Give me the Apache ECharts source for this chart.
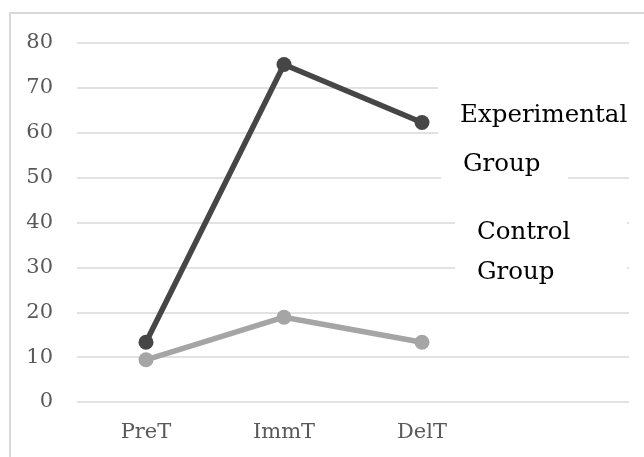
<!DOCTYPE html>
<html>
<head>
<meta charset="utf-8">
<script src="https://cdn.jsdelivr.net/npm/echarts@6/dist/echarts.min.js"></script>
<style>
html,body{margin:0;padding:0;background:#fff;}
#chart{width:644px;height:457px;}
</style>
</head>
<body>
<div id="chart"></div>
<script>
// ---- data ----
var categories = ['PreT', 'ImmT', 'DelT', ''];
var experimentalName = 'Experimental Group';
var controlName = 'Control Group';
var experimentalValues = [13.3, 75.2, 62.3, null];
var controlValues = [9.4, 18.9, 13.3, null];
var yTicks = { min: 0, max: 80, interval: 10 };
var expLegendLines = ['Experimental', 'Group'];
var ctlLegendLines = ['Control', 'Group'];

var chart = echarts.init(document.getElementById('chart'), null, { renderer: 'canvas' });
var serif = '"DejaVu Serif", "Liberation Serif", serif';

var option = {
  backgroundColor: '#ffffff',
  animation: false,
  grid: { left: 77, right: 15, top: 43, bottom: 55, containLabel: false },
  xAxis: {
    type: 'category',
    data: categories,
    boundaryGap: true,
    axisLine: { show: false },
    axisTick: { show: false },
    axisLabel: { color: '#595959', fontFamily: serif, fontSize: 21, margin: 20 }
  },
  yAxis: {
    type: 'value',
    min: yTicks.min,
    max: yTicks.max,
    interval: yTicks.interval,
    axisLine: { show: false },
    axisTick: { show: false },
    axisLabel: { color: '#595959', fontFamily: serif, fontSize: 21, margin: 24 },
    splitLine: { lineStyle: { color: '#d9d9d9', width: 1.5 } }
  },
  series: [
    {
      name: experimentalName,
      type: 'line',
      data: experimentalValues,
      symbol: 'circle',
      symbolSize: 15,
      lineStyle: { color: '#464646', width: 5.5 },
      itemStyle: { color: '#464646' },
      z: 3
    },
    {
      name: controlName,
      type: 'line',
      data: controlValues,
      symbol: 'circle',
      symbolSize: 15,
      lineStyle: { color: '#a5a5a5', width: 5.5 },
      itemStyle: { color: '#a5a5a5' },
      z: 2
    }
  ],
  graphic: [
    { type: 'rect', z: 100, silent: true, shape: { x: 10, y: 13, width: 700, height: 500 },
      style: { fill: 'none', stroke: '#d9d9d9', lineWidth: 2 } },
    { type: 'rect', z: 100, silent: true, shape: { x: 438, y: 82, width: 200, height: 58 }, style: { fill: '#fff' } },
    { type: 'rect', z: 100, silent: true, shape: { x: 441, y: 142, width: 127, height: 42 }, style: { fill: '#fff' } },
    { type: 'rect', z: 100, silent: true, shape: { x: 455, y: 195, width: 172, height: 100 }, style: { fill: '#fff' } },
    { type: 'text', z: 101, silent: true, x: 460, y: 116,
      style: { text: expLegendLines[0], fill: '#000', font: '24.5px ' + serif, textVerticalAlign: 'middle' } },
    { type: 'text', z: 101, silent: true, x: 463, y: 165,
      style: { text: expLegendLines[1], fill: '#000', font: '24.5px ' + serif, textVerticalAlign: 'middle' } },
    { type: 'text', z: 101, silent: true, x: 477, y: 233,
      style: { text: ctlLegendLines[0], fill: '#000', font: '24.5px ' + serif, textVerticalAlign: 'middle' } },
    { type: 'text', z: 101, silent: true, x: 477, y: 273,
      style: { text: ctlLegendLines[1], fill: '#000', font: '24.5px ' + serif, textVerticalAlign: 'middle' } }
  ]
};
chart.setOption(option);
</script>
</body>
</html>
